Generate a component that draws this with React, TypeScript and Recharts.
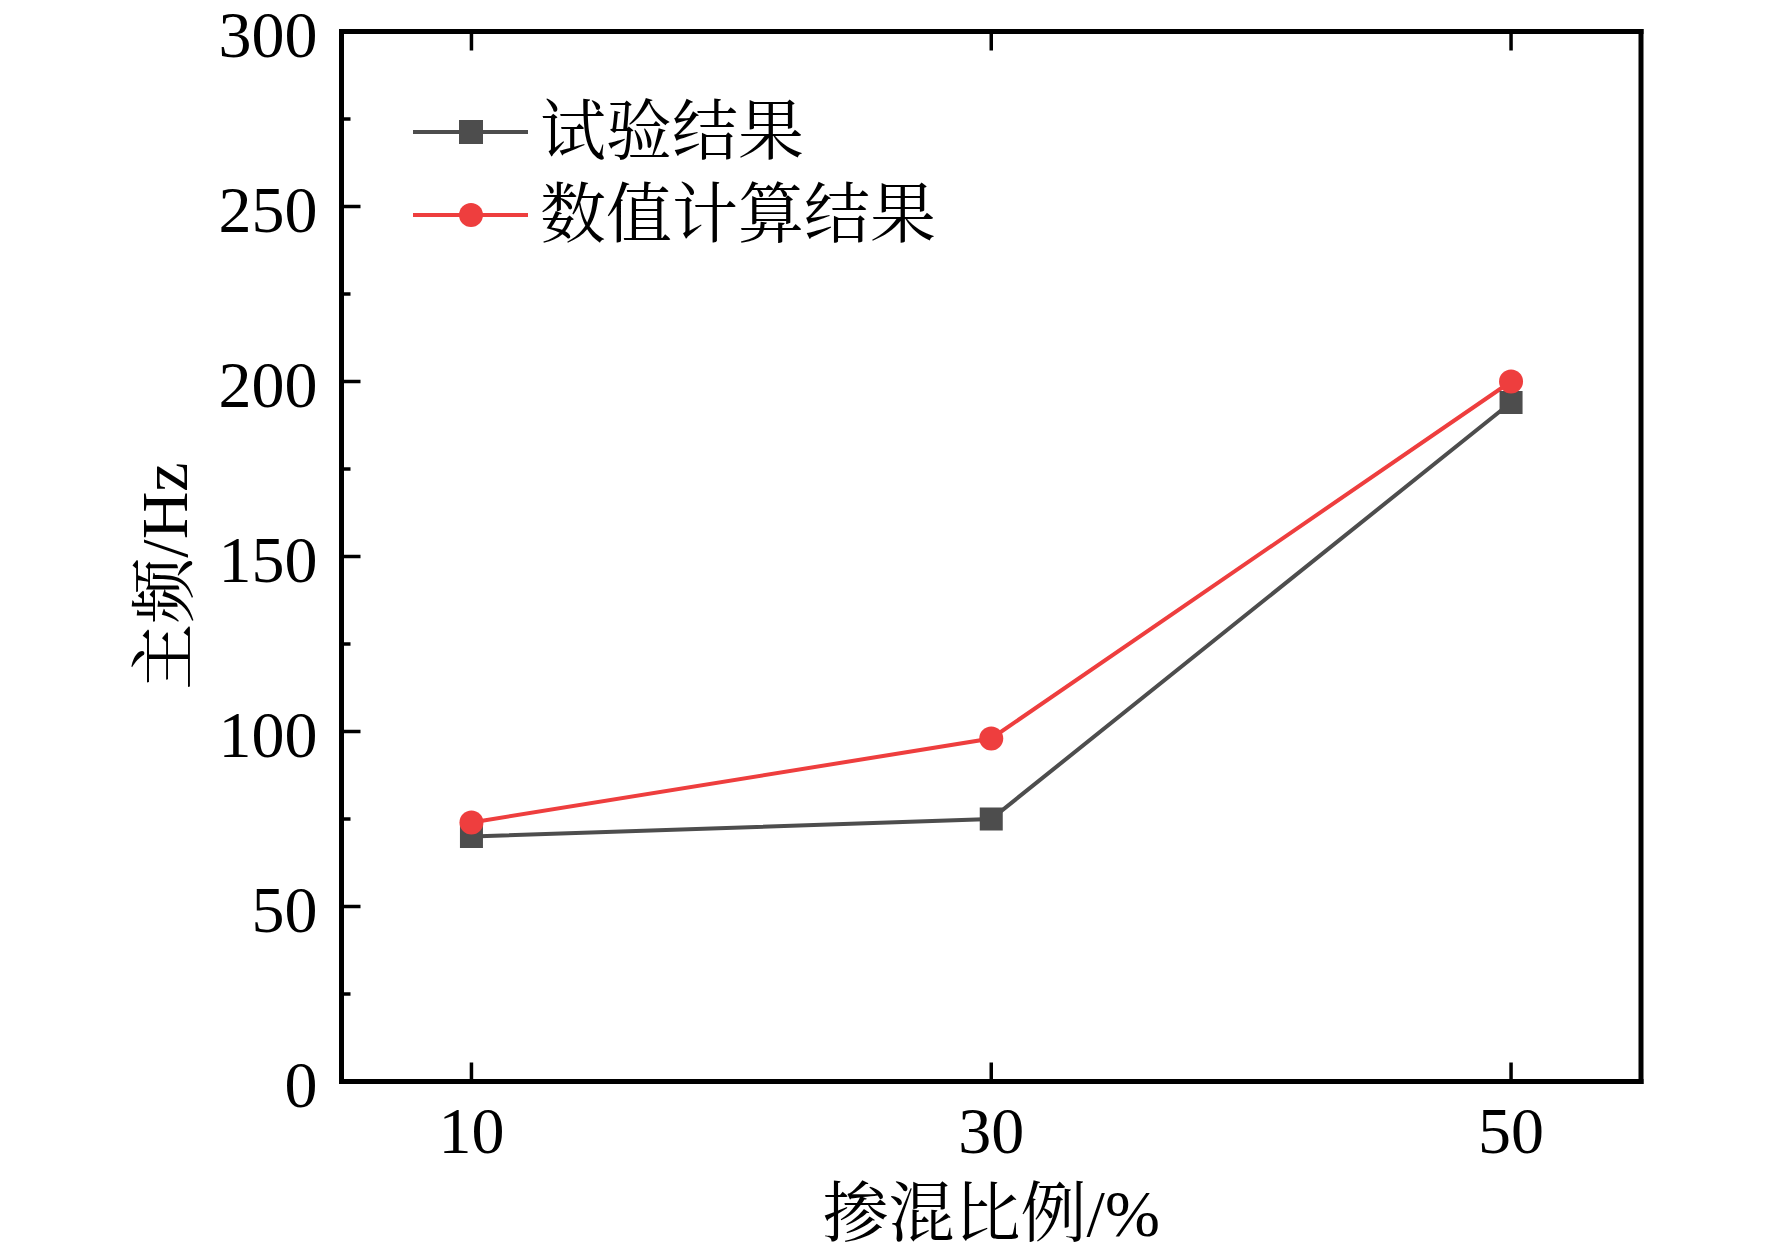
import React from 'react';
import { LineChart, Line, XAxis, YAxis, Legend } from 'recharts';

const categories = [10, 30, 50];
const testResults = [70, 75, 194];
const numericResults = [74, 98, 200];
const xTicks = [10, 30, 50];
const yMajorTicks = [0, 50, 100, 150, 200, 250, 300];
const yAllTicks = [0, 25, 50, 75, 100, 125, 150, 175, 200, 225, 250, 275, 300];
const seriesNames = ['试验结果', '数值计算结果'];

const data = categories.map((c, i) => ({ x: c, test: testResults[i], num: numericResults[i] }));

const FONT = '"Liberation Serif", "Times New Roman", "Noto Serif CJK SC", "Noto Sans CJK SC", serif';
const GRAY = '#4d4d4d';
const RED = '#ee3e3e';
const FS = 66;
const MAJOR = 19;
const MINOR = 9;
const TW = 3.5;
const AXW = 5;

const axisLineStyle = { stroke: '#000', strokeWidth: AXW, strokeLinecap: 'square' as const };

const LeftTick = (props: any) => {
  const { x, y, payload } = props;
  const major = yMajorTicks.includes(payload.value);
  return (
    <g>
      <line x1={x} x2={x + (major ? MAJOR : MINOR)} y1={y} y2={y} stroke="#000" strokeWidth={TW} />
      {major && (
        <text x={x - 24} y={y + 25} textAnchor="end" fontSize={FS} fontFamily={FONT} fill="#000">
          {payload.value}
        </text>
      )}
    </g>
  );
};

const RightTick = (props: any) => {
  const { x, y, payload } = props;
  const major = yMajorTicks.includes(payload.value);
  return <line x1={x} x2={x - (major ? MAJOR : MINOR)} y1={y} y2={y} stroke="#000" strokeWidth={TW} />;
};

const BottomTick = (props: any) => {
  const { x, y, payload } = props;
  return (
    <g>
      <line x1={x} x2={x} y1={y} y2={y - MAJOR} stroke="#000" strokeWidth={TW} />
      <text x={x} y={y + 71.5} textAnchor="middle" fontSize={FS} fontFamily={FONT} fill="#000">
        {payload.value}
      </text>
    </g>
  );
};

const TopTick = (props: any) => {
  const { x, y } = props;
  return <line x1={x} x2={x} y1={y} y2={y + MAJOR} stroke="#000" strokeWidth={TW} />;
};

const SquareDot = (props: any) => {
  const { cx, cy, index } = props;
  if (cx == null || cy == null) return <g key={`sq-${index}`} />;
  return <rect key={`sq-${index}`} x={cx - 11.5} y={cy - 11.5} width={23} height={23} fill={GRAY} />;
};

const LegendContent = () => {
  const rows = [
    { name: seriesNames[0], color: GRAY, shape: 'square' },
    { name: seriesNames[1], color: RED, shape: 'circle' },
  ];
  return (
    <svg width={720} height={190} style={{ display: 'block', overflow: 'visible' }}>
      {rows.map((r, i) => {
        const cy = 52 + i * 83;
        return (
          <g key={r.name}>
            <line x1={13} x2={128} y1={cy} y2={cy} stroke={r.color} strokeWidth={4} />
            {r.shape === 'square' ? (
              <rect x={71 - 12} y={cy - 12} width={24} height={24} fill={r.color} />
            ) : (
              <circle cx={71} cy={cy} r={12} fill={r.color} />
            )}
            <text x={140} y={cy + 22} fontSize={FS} fontFamily={FONT} fill="#000">
              {r.name}
            </text>
          </g>
        );
      })}
    </svg>
  );
};

export default function App() {
  return (
    <div style={{ width: 1772, height: 1257, background: '#fff', position: 'relative' }}>
      <style>{'html,body{margin:0;padding:0;overflow:hidden;background:#fff}'}</style>
      <LineChart
        width={1772}
        height={1257}
        data={data}
        margin={{ top: 30.5, right: 130, bottom: 75.5, left: 241.5 }}
      >
        <XAxis
          dataKey="x"
          type="number"
          domain={[5, 55]}
          ticks={xTicks}
          interval={0}
          height={100}
          tickSize={0}
          tickMargin={0}
          tickLine={false}
          axisLine={axisLineStyle}
          tick={<BottomTick />}
          label={(props: any) => {
            const vb = props.viewBox || {};
            return (
              <text
                x={vb.x + vb.width / 2}
                y={1236}
                textAnchor="middle"
                fontSize={FS}
                fontFamily={FONT}
                fill="#000"
              >
                掺混比例/%
              </text>
            );
          }}
        />
        <XAxis
          xAxisId="top"
          dataKey="x"
          type="number"
          orientation="top"
          domain={[5, 55]}
          ticks={xTicks}
          interval={0}
          height={1}
          tickSize={0}
          tickMargin={0}
          tickLine={false}
          axisLine={axisLineStyle}
          tick={<TopTick />}
        />
        <YAxis
          type="number"
          domain={[0, 300]}
          ticks={yAllTicks}
          interval={0}
          width={100}
          tickSize={0}
          tickMargin={0}
          tickLine={false}
          axisLine={axisLineStyle}
          tick={<LeftTick />}
          label={() => (
            <text
              transform="translate(162,576) rotate(-90)"
              x={0}
              y={25}
              textAnchor="middle"
              fontSize={FS}
              fontFamily={FONT}
              fill="#000"
            >
              主频/Hz
            </text>
          )}
        />
        <YAxis
          yAxisId="right"
          type="number"
          orientation="right"
          domain={[0, 300]}
          ticks={yAllTicks}
          interval={0}
          width={1}
          tickSize={0}
          tickMargin={0}
          tickLine={false}
          axisLine={axisLineStyle}
          tick={<RightTick />}
        />
        <Legend
          layout="vertical"
          align="center"
          verticalAlign="middle"
          content={<LegendContent />}
          wrapperStyle={{ position: 'absolute', left: 400, top: 80, width: 720, height: 190 }}
        />
        <Line
          type="linear"
          dataKey="test"
          name={seriesNames[0]}
          stroke={GRAY}
          strokeWidth={4}
          dot={SquareDot}
          activeDot={false}
          isAnimationActive={false}
        />
        <Line
          type="linear"
          dataKey="num"
          name={seriesNames[1]}
          stroke={RED}
          strokeWidth={4}
          dot={{ r: 12, fill: RED, stroke: 'none' }}
          activeDot={false}
          isAnimationActive={false}
        />
      </LineChart>
    </div>
  );
}
